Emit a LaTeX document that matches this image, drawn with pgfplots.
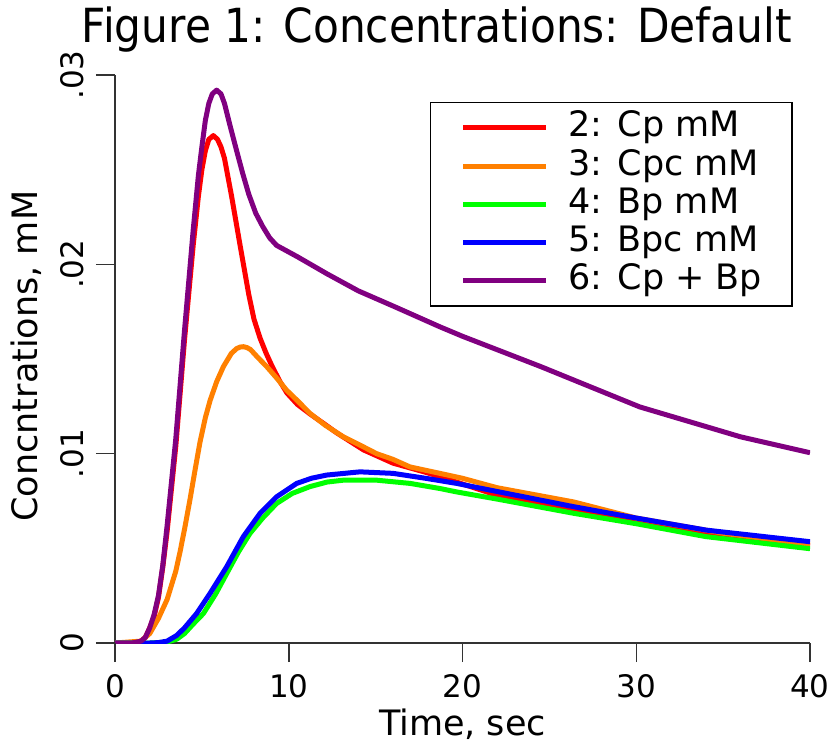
\documentclass[border=0pt]{standalone}
\usepackage{fontspec}
\setmainfont{DejaVu Sans}
\newfontfamily\titlefont[FakeStretch=0.9]{DejaVu Sans}
\usepackage{pgfplots}
\pgfplotsset{compat=1.18}
\definecolor{cpred}{RGB}{255,0,0}
\definecolor{cporange}{RGB}{255,128,0}
\definecolor{bpgreen}{RGB}{0,255,0}
\definecolor{bpblue}{RGB}{0,0,255}
\definecolor{sumpurple}{RGB}{128,0,128}
\definecolor{axisgray}{RGB}{51,51,51}
\begin{document}
\begin{tikzpicture}
\begin{axis}[
  at={(0pt,0pt)}, anchor=south west,
  scale only axis, width=695pt, height=568pt,
  xmin=0, xmax=40, ymin=0, ymax=0.03,
  enlargelimits=false,
  axis lines*=left,
  axis line style={line width=1.5pt, draw=axisgray},
  tick align=outside,
  major tick length=19pt,
  tick style={draw=axisgray, line width=1.5pt},
  scaled y ticks=false, scaled x ticks=false,
  xtick={0,10,20,30,40},
  xticklabels={0,10,20,30,40},
  ytick={0,0.01,0.02,0.03},
  yticklabels={0,.01,.02,.03},
  /pgf/number format/assume math mode=true,
  ticklabel style={font=\fontsize{31}{36}\selectfont},
  xticklabel style={inner sep=0pt, yshift=-12pt},
  yticklabel style={rotate=90, anchor=south, inner sep=0pt, yshift=12pt},
  title={\titlefont\fontsize{47}{50}\selectfont Figure 1: Concentrations: Default},
  title style={at={(axis description cs:0.463,1.0475)}, anchor=base, inner sep=0pt},
  xlabel={Time, sec},
  xlabel style={at={(axis description cs:0.5,-0.162)}, anchor=base, inner sep=0pt, font=\fontsize{35}{40}\selectfont},
  ylabel={Concntrations, mM},
  ylabel style={at={(axis description cs:-0.128,0.505)}, anchor=center, inner sep=0pt, font=\fontsize{35}{40}\selectfont},
  legend style={at={(axis description cs:0.4532,0.9525)}, anchor=north west,
    draw=black, line width=1.5pt, inner xsep=30pt, inner ysep=8pt,
    font=\fontsize{35}{38}\selectfont,
    nodes={inner sep=0pt, text height=26pt, text depth=8pt},
    row sep=4.3pt, column sep=20pt},
  legend cell align=left,
  legend image code/.code={\draw[#1, line width=5pt] (0pt,0pt) -- (83pt,0pt);},
  every axis plot/.append style={line width=5pt, line join=round},
]
\addplot[cpred] coordinates {
(0,0) (1,0) (1.5,0.0001) (1.75,0.0003) (2,0.0008) (2.25,0.0014) (2.5,0.0024) (2.75,0.0040)
(3,0.0059) (3.5,0.0104) (4,0.0160) (4.5,0.0210) (4.8,0.0236) (5,0.0250) (5.2,0.0260)
(5.4,0.0266) (5.66,0.0268) (5.9,0.0266) (6.1,0.0262) (6.3,0.0256) (6.71,0.0236)
(7.2,0.0210) (7.7,0.0184) (8.0,0.0171) (8.35,0.0161) (8.7,0.0153) (9.05,0.0146)
(9.5,0.0138) (9.9,0.0132) (10.5,0.0126) (11.22,0.0121) (12.0,0.0116) (12.76,0.0111)
(14.3,0.0102) (16,0.0095) (17.94,0.0090) (19.66,0.0085) (22,0.0078) (26.4,0.0070)
(30,0.00645) (35,0.00565) (40,0.00515)
};
\addlegendentry{2: Cp mM}
\addplot[cporange] coordinates {
(0,0) (1.5,0.0001) (2.0,0.0005) (2.5,0.0013) (3.0,0.0023) (3.5,0.0038) (3.74,0.0048)
(4.0,0.0060) (4.32,0.0076) (4.6,0.0091) (4.89,0.0106) (5.2,0.0119) (5.47,0.0128)
(5.85,0.0138) (6.24,0.0146) (6.7,0.0153) (7.0,0.01555) (7.2,0.01563) (7.4,0.01565)
(7.6,0.01560) (7.8,0.0155) (8.2,0.0151) (8.73,0.0146) (9.3,0.0140) (9.88,0.01335)
(10.5,0.0128) (11.22,0.01213) (12.1,0.0115) (13.14,0.01089) (14,0.0105) (15.06,0.0100)
(16,0.0097) (16.98,0.0093) (18.7,0.00896) (20,0.0087) (22,0.0082) (26.4,0.00745)
(30,0.0066) (35,0.0058) (40,0.0052)
};
\addlegendentry{3: Cpc mM}
\addplot[bpgreen] coordinates {
(0,0) (2,0) (3.0,0.00005) (3.55,0.0002) (4.0,0.0005) (4.5,0.0010) (5.09,0.00156)
(5.8,0.0026) (6.43,0.00367) (7.1,0.0048) (7.77,0.00579) (8.5,0.0066) (9.3,0.00737)
(10.2,0.0079) (11.22,0.00826) (12.2,0.0085) (13.14,0.0086) (15.06,0.0086) (16.98,0.00843)
(18.7,0.00816) (19.66,0.00798) (22,0.0076) (26.4,0.00685) (30,0.0063) (34,0.00562) (40,0.00498)
};
\addlegendentry{4: Bp mM}
\addplot[bpblue] coordinates {
(0,0) (2,0) (2.5,0.00002) (3.0,0.0001) (3.55,0.0004) (4.0,0.0008) (4.7,0.00156)
(5.47,0.00262) (6.43,0.00403) (7.38,0.00561) (8.35,0.00685) (9.3,0.00772) (10.46,0.00843)
(11.3,0.0087) (12.18,0.00887) (14.1,0.00904) (16,0.00896) (17.94,0.00869) (19.66,0.00843)
(22,0.0080) (26.4,0.0072) (30,0.0066) (34.05,0.00596) (40,0.00535)
};
\addlegendentry{5: Bpc mM}
\addplot[sumpurple] coordinates {
(0,0) (1,0) (1.5,0.0001) (1.75,0.0003) (2.0,0.0008) (2.25,0.0015) (2.5,0.0025) (2.75,0.0041)
(3.0,0.0062) (3.5,0.0108) (4.0,0.0165) (4.5,0.0218) (4.8,0.0247) (5.0,0.0262) (5.2,0.0276)
(5.4,0.0285) (5.6,0.0290) (5.85,0.0292) (6.1,0.0290) (6.3,0.0285) (6.6,0.0274) (7.0,0.0260)
(7.35,0.0248) (7.7,0.0237) (8.1,0.0227) (8.5,0.0220) (8.9,0.0214) (9.3,0.0210) (9.9,0.0207)
(10.5,0.0204) (12.2,0.0195) (14,0.0186) (16,0.0178) (18.7,0.0167) (20,0.0162) (24.5,0.0146)
(30.2,0.01247) (36,0.01089) (40,0.01005)
};
\addlegendentry{6: Cp + Bp}
\end{axis}
\draw[axisgray, line width=1.5pt]
  (0pt,0pt) -- (0pt,-19pt)
  (173.75pt,0pt) -- (173.75pt,-19pt)
  (347.5pt,0pt) -- (347.5pt,-19pt)
  (521.25pt,0pt) -- (521.25pt,-19pt)
  (695pt,0pt) -- (695pt,-19pt)
  (0pt,0pt) -- (-19pt,0pt)
  (0pt,189.333pt) -- (-19pt,189.333pt)
  (0pt,378.667pt) -- (-19pt,378.667pt)
  (0pt,568pt) -- (-19pt,568pt);
\path (-115pt,-112pt) rectangle (719pt,643pt);
\end{tikzpicture}
\end{document}
